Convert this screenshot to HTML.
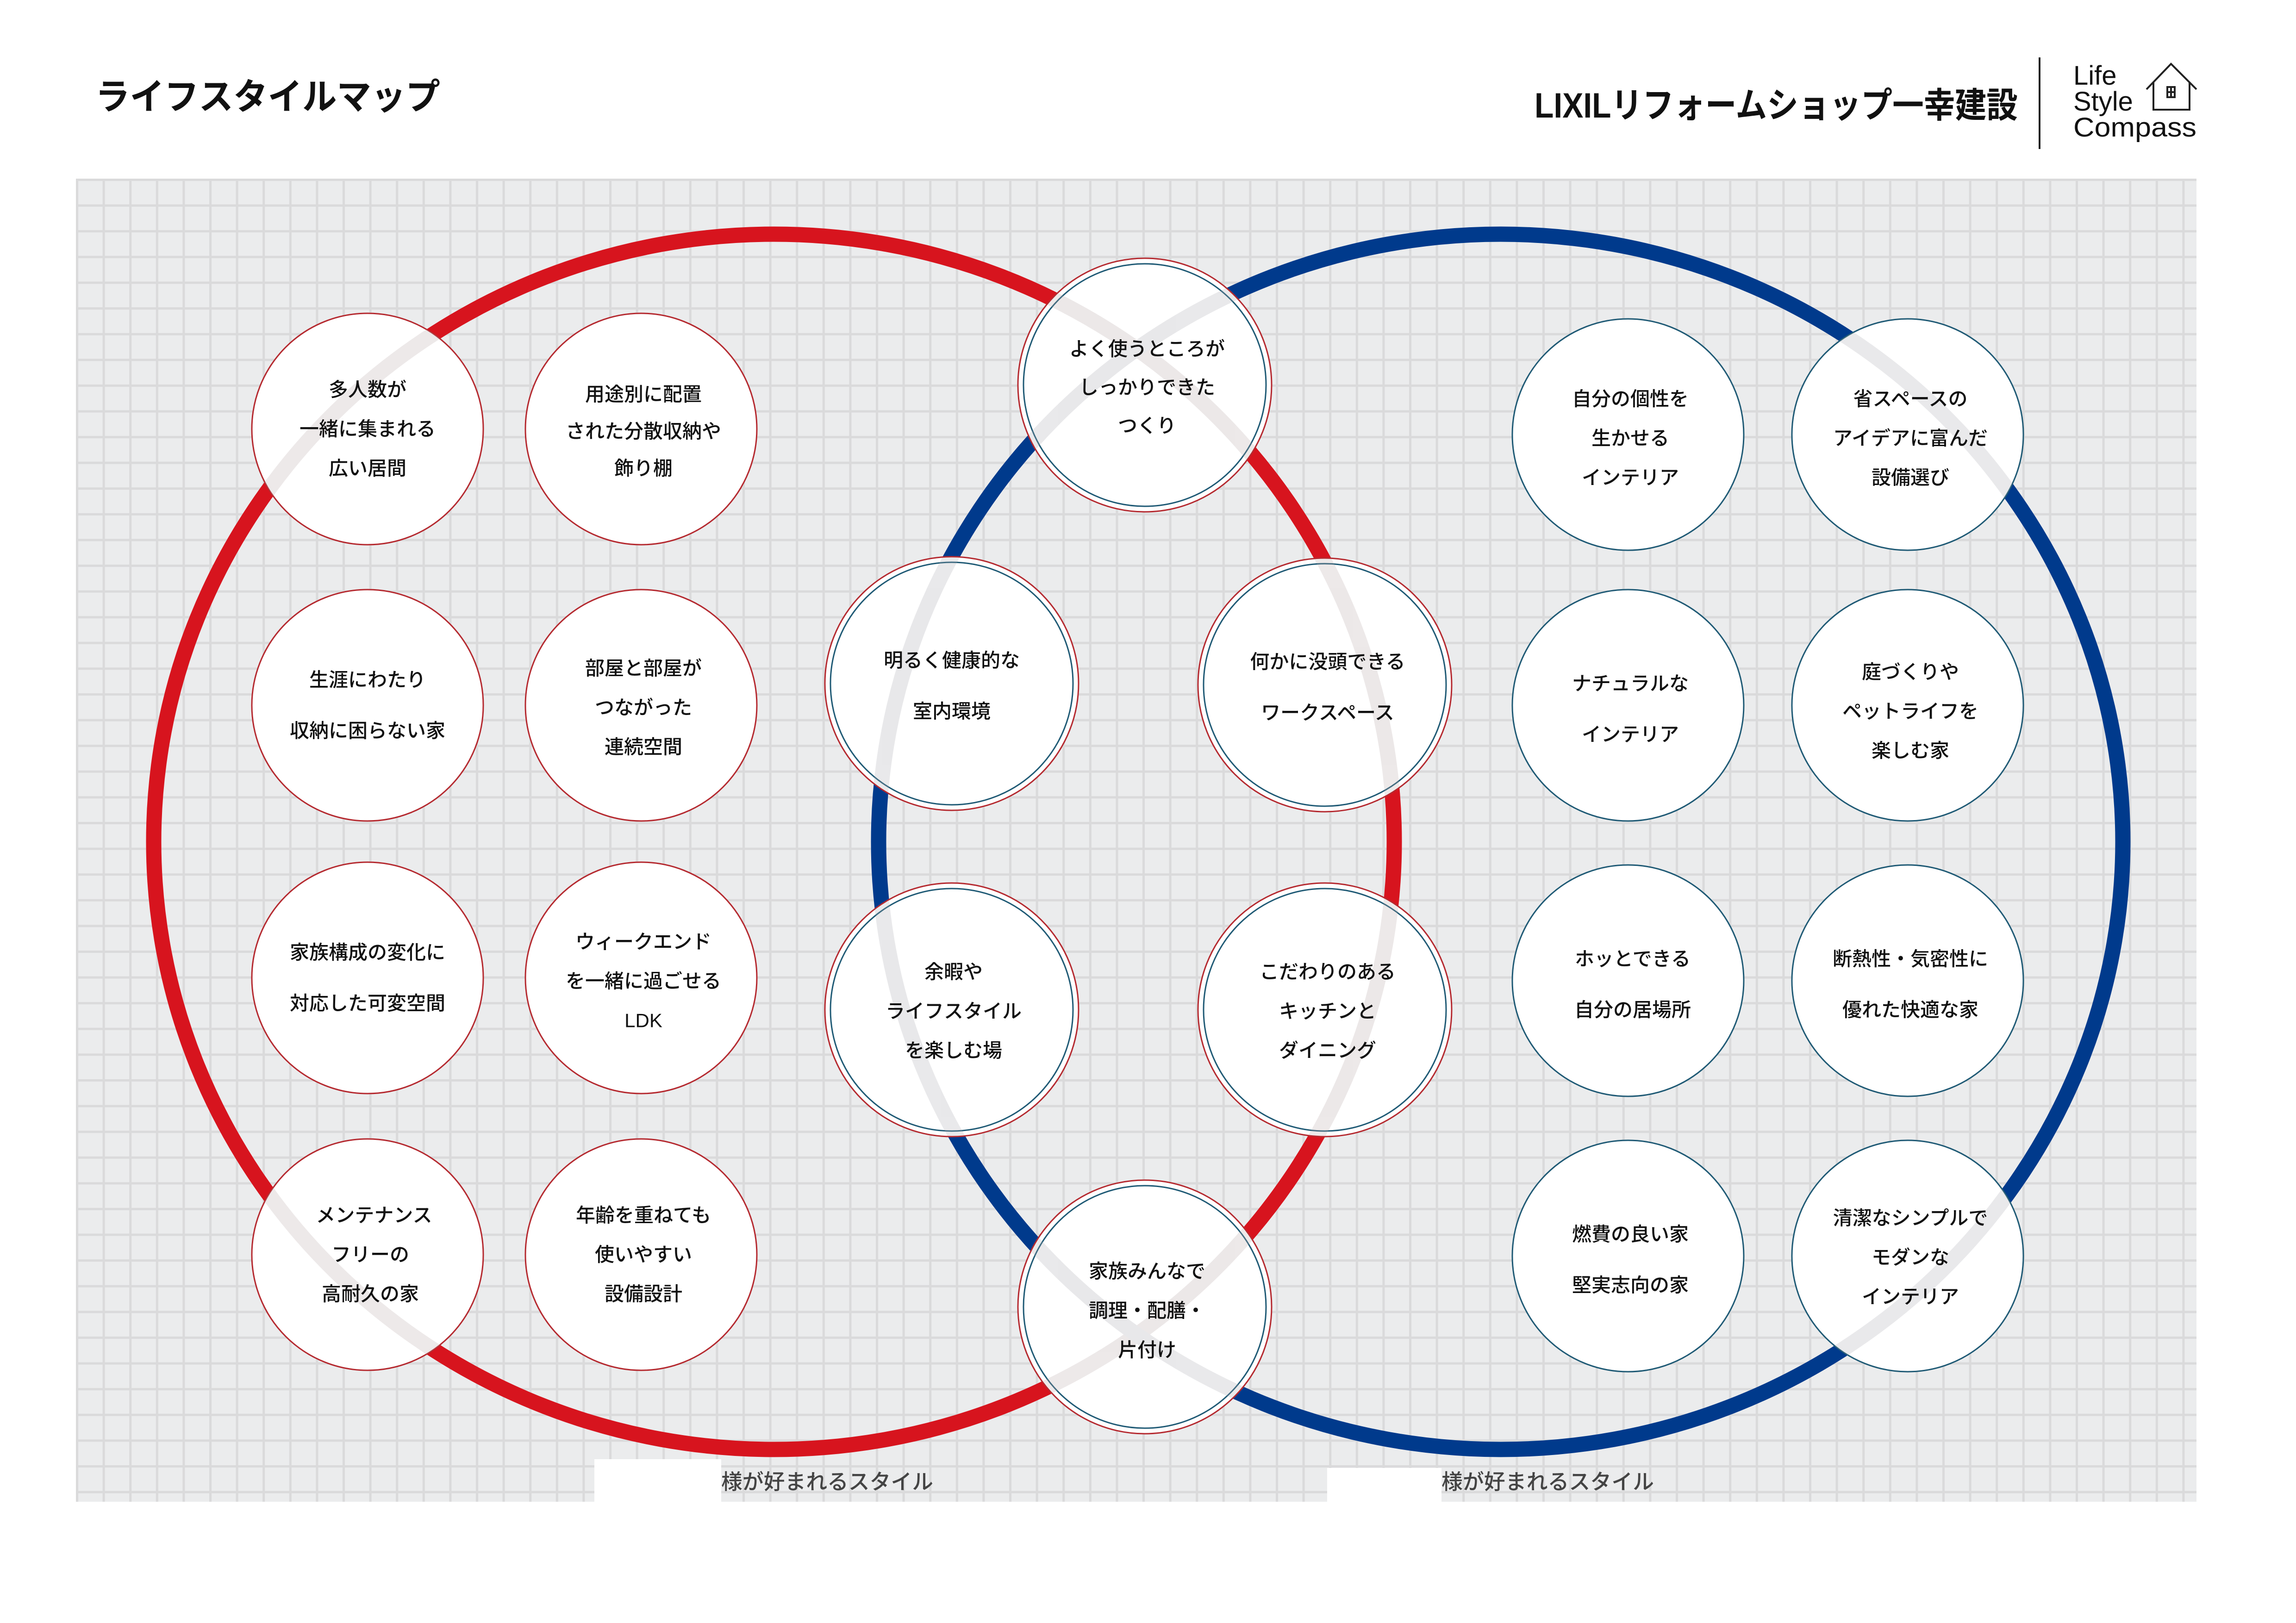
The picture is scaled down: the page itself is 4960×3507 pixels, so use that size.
<!DOCTYPE html>
<html><head><meta charset="utf-8">
<style>
html,body{margin:0;padding:0;background:#fff;}
svg{display:block;}
text{font-family:"Liberation Sans","Noto Sans CJK JP",sans-serif;}
</style></head>
<body>
<svg width="4960" height="3507" viewBox="0 0 4960 3507" xmlns="http://www.w3.org/2000/svg">
<defs>
<pattern id="grid" x="164" y="386" width="57.6" height="55.6" patternUnits="userSpaceOnUse">
<rect width="57.6" height="55.6" fill="#ebeced"/>
<rect x="0" y="0" width="5" height="55.6" fill="#dadadb"/>
<rect x="0" y="0" width="57.6" height="5" fill="#dadadb"/>
</pattern>
<clipPath id="cc">
<circle cx="794" cy="927" r="250"/><circle cx="794" cy="2711" r="250"/>
<circle cx="2473" cy="832" r="272"/><circle cx="2056" cy="1477" r="272"/><circle cx="2862" cy="1480" r="272"/>
<circle cx="2056" cy="2182" r="272"/><circle cx="2862" cy="2182" r="272"/><circle cx="2473" cy="2824" r="272"/>
<circle cx="4121" cy="939" r="250"/><circle cx="4121" cy="2714" r="250"/>
</clipPath>
</defs>

<!-- header -->
<text x="206" y="236" font-size="78" font-weight="700" fill="#111" textLength="745" lengthAdjust="spacingAndGlyphs">ライフスタイルマップ</text>
<text x="3315" y="254" font-size="76" font-weight="700" fill="#111" textLength="1044" lengthAdjust="spacingAndGlyphs">LIXILリフォームショップ一幸建設</text>
<rect x="4404" y="124" width="4" height="198" fill="#222"/>
<text x="4479" y="183" font-size="58" fill="#111">Life</text>
<text x="4479" y="239" font-size="58" fill="#111">Style</text>
<text x="4479" y="295" font-size="58" fill="#111" textLength="266" lengthAdjust="spacingAndGlyphs">Compass</text>
<g fill="none" stroke="#222" stroke-width="4">
<polyline points="4637,193 4690,138 4745,193"/>
<polyline points="4652,178 4652,237 4730,237 4730,178"/>
<rect x="4682" y="188" width="16" height="22"/>
<line x1="4690" y1="188" x2="4690" y2="210"/>
<line x1="4682" y1="199" x2="4698" y2="199"/>
</g>

<!-- grid -->
<rect x="164" y="386" width="4581" height="2859" fill="url(#grid)"/>

<!-- big rings -->
<ellipse cx="1672" cy="1819" rx="1340" ry="1313" fill="none" stroke="#d7141e" stroke-width="33"/>
<ellipse cx="3242" cy="1819" rx="1344" ry="1313" fill="none" stroke="#003a8c" stroke-width="33"/>

<!-- circles -->
<g fill="#fff" stroke="#b52a30" stroke-width="3">
<circle cx="794" cy="927" r="250"/><circle cx="1385" cy="927" r="250"/>
<circle cx="794" cy="1524" r="250"/><circle cx="1385" cy="1524" r="250"/>
<circle cx="794" cy="2113" r="250"/><circle cx="1385" cy="2113" r="250"/>
<circle cx="794" cy="2711" r="250"/><circle cx="1385" cy="2711" r="250"/>
</g>
<g fill="#fff" stroke="#1f5a75" stroke-width="3">
<circle cx="3517" cy="939" r="250"/><circle cx="4121" cy="939" r="250"/>
<circle cx="3517" cy="1524" r="250"/><circle cx="4121" cy="1524" r="250"/>
<circle cx="3517" cy="2119" r="250"/><circle cx="4121" cy="2119" r="250"/>
<circle cx="3517" cy="2714" r="250"/><circle cx="4121" cy="2714" r="250"/>
</g>
<g fill="#fff" stroke="#b52a30" stroke-width="3">
<circle cx="2473" cy="832" r="274"/><circle cx="2056" cy="1477" r="274"/><circle cx="2862" cy="1480" r="274"/>
<circle cx="2056" cy="2182" r="274"/><circle cx="2862" cy="2182" r="274"/><circle cx="2473" cy="2824" r="274"/>
</g>
<g fill="none" stroke="#1f5a75" stroke-width="3">
<circle cx="2473" cy="832" r="262"/><circle cx="2056" cy="1477" r="262"/><circle cx="2862" cy="1480" r="262"/>
<circle cx="2056" cy="2182" r="262"/><circle cx="2862" cy="2182" r="262"/><circle cx="2473" cy="2824" r="262"/>
</g>
<!-- faint ring crossings through circles -->
<g clip-path="url(#cc)" fill="none" stroke-width="33" opacity="0.25">
<ellipse cx="1672" cy="1819" rx="1340" ry="1313" stroke="#b8a8a8"/>
<ellipse cx="3242" cy="1819" rx="1344" ry="1313" stroke="#a8a8ae"/>
</g>

<!-- circle texts -->
<g font-size="42" font-weight="500" fill="#111" text-anchor="middle" dominant-baseline="central">
<text x="794" y="842">多人数が</text><text x="794" y="927">一緒に集まれる</text><text x="794" y="1012">広い居間</text>
<text x="794" y="1469">生涯にわたり</text><text x="794" y="1579">収納に困らない家</text>
<text x="794" y="2058">家族構成の変化に</text><text x="794" y="2168">対応した可変空間</text>
<text x="808" y="2626">メンテナンス</text><text x="800" y="2711">フリーの</text><text x="800" y="2796">高耐久の家</text>

<text x="1390" y="852">用途別に配置</text><text x="1390" y="932">された分散収納や</text><text x="1390" y="1012">飾り棚</text>
<text x="1390" y="1444">部屋と部屋が</text><text x="1390" y="1529">つながった</text><text x="1390" y="1614">連続空間</text>
<text x="1390" y="2035">ウィークエンド</text><text x="1390" y="2120">を一緒に過ごせる</text><text x="1390" y="2205">LDK</text>
<text x="1390" y="2626">年齢を重ねても</text><text x="1390" y="2711">使いやすい</text><text x="1390" y="2796">設備設計</text>

<text x="2478" y="754">よく使うところが</text><text x="2478" y="837">しっかりできた</text><text x="2478" y="920">つくり</text>
<text x="2056" y="1427">明るく健康的な</text><text x="2056" y="1537">室内環境</text>
<text x="2868" y="1430">何かに没頭できる</text><text x="2868" y="1540">ワークスペース</text>
<text x="2060" y="2100">余暇や</text><text x="2060" y="2185">ライフスタイル</text><text x="2060" y="2270">を楽しむ場</text>
<text x="2868" y="2100">こだわりのある</text><text x="2868" y="2185">キッチンと</text><text x="2868" y="2270">ダイニング</text>
<text x="2478" y="2747">家族みんなで</text><text x="2478" y="2832">調理・配膳・</text><text x="2478" y="2917">片付け</text>

<text x="3522" y="862">自分の個性を</text><text x="3522" y="947">生かせる</text><text x="3522" y="1032">インテリア</text>
<text x="3522" y="1477">ナチュラルな</text><text x="3522" y="1587">インテリア</text>
<text x="3527" y="2072">ホッとできる</text><text x="3527" y="2182">自分の居場所</text>
<text x="3522" y="2667">燃費の良い家</text><text x="3522" y="2777">堅実志向の家</text>

<text x="4127" y="862">省スペースの</text><text x="4127" y="947">アイデアに富んだ</text><text x="4127" y="1032">設備選び</text>
<text x="4127" y="1452">庭づくりや</text><text x="4127" y="1537">ペットライフを</text><text x="4127" y="1622">楽しむ家</text>
<text x="4127" y="2072">断熱性・気密性に</text><text x="4127" y="2182">優れた快適な家</text>
<text x="4127" y="2632">清潔なシンプルで</text><text x="4127" y="2717">モダンな</text><text x="4127" y="2802">インテリア</text>
</g>

<!-- bottom labels -->
<rect x="1284" y="3153" width="274" height="95" fill="#fff"/>
<rect x="2867" y="3172" width="247" height="76" fill="#fff"/>
<g font-size="46" font-weight="500" fill="#444" dominant-baseline="central">
<text x="1558" y="3202" textLength="458" lengthAdjust="spacingAndGlyphs">様が好まれるスタイル</text>
<text x="3114" y="3202" textLength="459" lengthAdjust="spacingAndGlyphs">様が好まれるスタイル</text>
</g>
</svg>
</body></html>
